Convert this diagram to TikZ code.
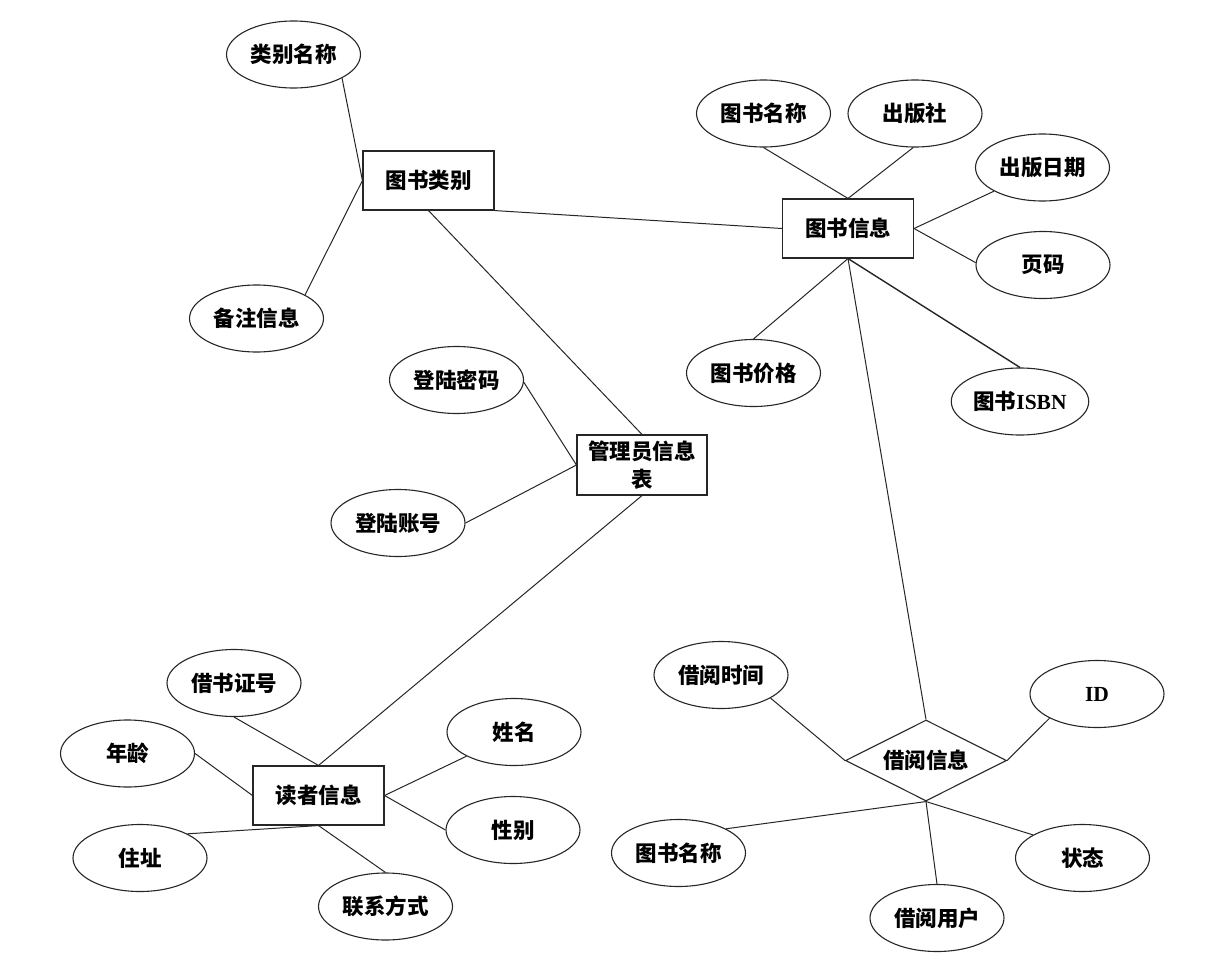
\documentclass[tikz,border=0pt]{standalone}
\usepackage{fontspec}
\setmainfont{Liberation Serif}
\newfontfamily\cjk{Noto Sans CJK SC}
\usetikzlibrary{shapes.geometric}
\tikzset{
  base/.style={font=\cjk\bfseries\fontsize{21.5}{28}\selectfont, draw=black!85, line width=1.1pt, inner sep=2pt},
  ent/.style={base, rectangle, minimum width=131pt, minimum height=59pt, align=center},
  attr/.style={base, ellipse, minimum width=134pt, minimum height=67pt},
  rel/.style={base, diamond, minimum width=161pt, minimum height=81pt, aspect=2, inner sep=0pt},
  conn/.style={draw=black!85, line width=1pt}
}
\begin{document}
\begin{tikzpicture}[x=1pt,y=-1pt]
\useasboundingbox (0,0) rectangle (1232,980);
% entities
\node[ent] (cat) at (428.5,180.5) {图书类别};
\node[ent] (book) at (848,228.5) {图书信息};
\node[ent, minimum width=130pt, minimum height=60pt] (admin) at (642,465) {管理员信息\\表};
\node[ent] (reader) at (318.5,795.5) {读者信息};
\node[rel] (rel) at (926,760.5) {借阅信息};
% attributes
\node[attr] (lbmc) at (293.5,54.5) {类别名称};
\node[attr] (bz) at (256.5,318.5) {备注信息};
\node[attr] (tsmc) at (763.5,113.5) {图书名称};
\node[attr] (cbs) at (915,113.5) {出版社};
\node[attr] (cbrq) at (1042.5,167.5) {出版日期};
\node[attr] (ym) at (1043,265) {页码};
\node[attr] (jg) at (753.5,373) {图书价格};
\node[attr] (isbn) at (1020,401.5) {图书{\rmfamily\bfseries ISBN}};
\node[attr] (mm) at (456.5,380) {登陆密码};
\node[attr] (zh) at (398,523) {登陆账号};
\node[attr] (jszh) at (234,683) {借书证号};
\node[attr] (nl) at (127.5,753.5) {年龄};
\node[attr] (xm) at (514,732) {姓名};
\node[attr] (zz) at (140,858) {住址};
\node[attr] (xb) at (513,830) {性别};
\node[attr] (lx) at (385.5,906.5) {联系方式};
\node[attr] (jysj) at (721,675) {借阅时间};
\node[attr] (id) at (1097,694) {{\rmfamily\bfseries ID}};
\node[attr] (tsmc2) at (678.5,853) {图书名称};
\node[attr] (zt) at (1082.5,858) {状态};
\node[attr] (jyyh) at (937,918) {借阅用户};
% connectors
\draw[conn] (lbmc.-26) -- (cat.west);
\draw[conn] (bz.26) -- (cat.west);
\draw[conn] (cat.south east) -- (book.west);
\draw[conn] (cat.south) -- (admin.north);
\draw[conn] (mm.-2) -- (admin.west);
\draw[conn] (zh.east) -- (admin.west);
\draw[conn] (admin.south) -- (reader.north);
\draw[conn] (tsmc.south) -- (book.north);
\draw[conn] (cbs.-93) -- (book.north);
\draw[conn] (cbrq.206) -- (book.east);
\draw[conn] (ym.178) -- (book.east);
\draw[conn] (book.south) -- (jg.north);
\draw[conn, line width=1.4pt] (book.south) -- (isbn.north);
\draw[conn] (book.south) -- (rel.north);
\draw[conn] (jszh.south) -- (reader.north);
\draw[conn] (nl.east) -- (reader.west);
\draw[conn] (xm.207) -- (reader.east);
\draw[conn] (xb.west) -- (reader.east);
\draw[conn] (zz.27) -- (reader.south);
\draw[conn] (lx.north) -- (reader.south);
\draw[conn] (jysj.-25) -- (rel.west);
\draw[conn] (id.207) -- (rel.east);
\draw[conn] (tsmc2.27) -- (rel.south);
\draw[conn] (zt.155) -- (rel.south);
\draw[conn] (jyyh.north) -- (rel.south);
\end{tikzpicture}
\end{document}
